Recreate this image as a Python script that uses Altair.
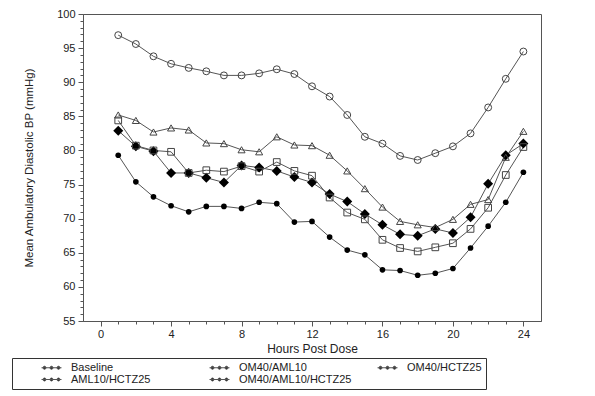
import altair as alt
import pandas as pd

hours = list(range(1, 25))
series_names = ["Baseline", "OM40/AML10", "OM40/HCTZ25", "AML10/HCTZ25", "OM40/AML10/HCTZ25"]

baseline = [96.9, 95.6, 93.8, 92.7, 92.1, 91.6, 91.0, 91.0, 91.3, 91.9, 91.2, 89.4,
            87.9, 85.2, 82.0, 81.0, 79.2, 78.6, 79.6, 80.6, 82.5, 86.3, 90.5, 94.5]
om40_aml10 = [82.9, 80.6, 79.9, 76.7, 76.7, 76.0, 75.3, 77.8, 77.5, 77.0, 76.1, 75.3,
              73.6, 72.5, 70.7, 69.1, 67.7, 67.5, 68.5, 67.9, 70.2, 75.1, 79.3, 81.0]
om40_hctz25 = [84.4, 80.7, 80.0, 79.8, 76.7, 77.1, 76.9, 77.7, 76.9, 78.3, 77.0, 76.3,
               73.1, 70.9, 69.9, 66.9, 65.7, 65.2, 65.8, 66.4, 68.5, 71.6, 76.4, 80.5]
aml10_hctz25 = [85.2, 84.4, 82.7, 83.3, 83.0, 81.1, 81.0, 80.1, 79.8, 82.0, 80.8, 80.7,
                79.3, 77.0, 74.4, 71.7, 69.6, 69.1, 68.7, 69.9, 72.1, 72.8, 79.0, 82.8]
om40_aml10_hctz25 = [79.3, 75.4, 73.2, 71.9, 71.0, 71.8, 71.8, 71.5, 72.4, 72.2, 69.5, 69.6,
                     67.3, 65.4, 64.7, 62.5, 62.4, 61.7, 62.0, 62.7, 65.7, 68.9, 72.4, 76.8]

shapes = ["circle", "diamond", "square", "triangle-up", "circle"]
sizes = [48, 100, 45, 50, 32]
filled = [False, True, False, False, True]

x_ticks = list(range(0, 25))
y_ticks = list(range(55, 101))

all_vals = [baseline, om40_aml10, om40_hctz25, aml10_hctz25, om40_aml10_hctz25]
rows = []
for name, vals in zip(series_names, all_vals):
    for h, v in zip(hours, vals):
        rows.append({"hour": h, "bp": v, "series": name})
df = pd.DataFrame(rows)

FONT = "Liberation Sans"
TXT = "#222222"
GRAY = "#555555"


def dots_path():
    parts = ["M-2,0H2"]
    rr = 0.3
    for cx in (-1.4, 0.0, 1.4):
        parts.append(f"M{cx - rr:.2f},0a{rr},{rr} 0 1,0 {2 * rr},0a{rr},{rr} 0 1,0 {-2 * rr},0")
    return "".join(parts)


x_enc = alt.X(
    "hour:Q",
    scale=alt.Scale(domain=[-1, 25], nice=False, zero=False),
    axis=alt.Axis(
        title="Hours Post Dose",
        values=x_ticks,
        labelExpr="datum.value % 4 === 0 ? datum.label : ''",
        tickSize={"condition": {"test": "datum.value % 4 === 0", "value": 5}, "value": 3},
        labelOverlap=False,
        labelFlush=False,
        grid=False,
        labelPadding=2,
        titlePadding=4,
        titleFontSize=12,
    ),
)
y_enc = alt.Y(
    "bp:Q",
    scale=alt.Scale(domain=[55, 100], nice=False, zero=False),
    axis=alt.Axis(
        title="Mean Ambulatory Diastolic BP (mmHg)",
        values=y_ticks,
        labelExpr="datum.value % 5 === 0 ? datum.label : ''",
        tickSize={"condition": {"test": "datum.value % 5 === 0", "value": 5}, "value": 3},
        labelOverlap=False,
        labelFlush=False,
        grid=False,
        labelPadding=3,
        titlePadding=22,
        titleFontSize=11.5,
    ),
)

base = alt.Chart(df)

lines = base.mark_line(strokeWidth=1).encode(
    x=x_enc,
    y=y_enc,
    detail="series:N",
    color=alt.Color(
        "series:N",
        scale=alt.Scale(domain=series_names, range=[GRAY] * 5),
        legend=alt.Legend(
            title=None,
            orient="none",
            legendX=-71,
            legendY=344,
            columns=3,
            direction="horizontal",
            gridAlign="all",
            symbolType=dots_path(),
            symbolSize=100,
            symbolOffset=30,
            symbolStrokeWidth=1,
            symbolFillColor="#222222",
            labelOffset=14,
            columnPadding=0,
            rowPadding=0,
            padding=4,
            strokeColor="#333333",
            labelFont=FONT,
            labelFontSize=11,
            labelColor=TXT,
            labelLimit=300,
        ),
    ),
)

point_layers = []
for name, shp, sz, fl in zip(series_names, shapes, sizes, filled):
    if fl:
        mk = base.mark_point(shape=shp, size=sz, filled=True, color="#000000", opacity=1)
    else:
        mk = base.mark_point(shape=shp, size=sz, filled=False, color="#444444", strokeWidth=1, opacity=1)
    point_layers.append(
        mk.transform_filter(alt.datum.series == name).encode(x=x_enc, y=y_enc)
    )

chart = (
    alt.layer(lines, *point_layers)
    .properties(
        width=458,
        height=307,
        autosize=alt.AutoSizeParams(type="none"),
        padding={"left": 75, "top": 6, "right": 10, "bottom": 75},
    )
    .configure_view(stroke=GRAY, strokeWidth=1)
    .configure_axis(
        labelFont=FONT,
        titleFont=FONT,
        labelFontSize=11,
        labelColor=TXT,
        titleColor=TXT,
        titleFontWeight="normal",
        domainColor=GRAY,
        tickColor=GRAY,
        labelOverlap=False,
    )
    .configure_legend(labelFont=FONT)
)

chart.save("out.html", embed_options={"renderer": "svg", "actions": False})
